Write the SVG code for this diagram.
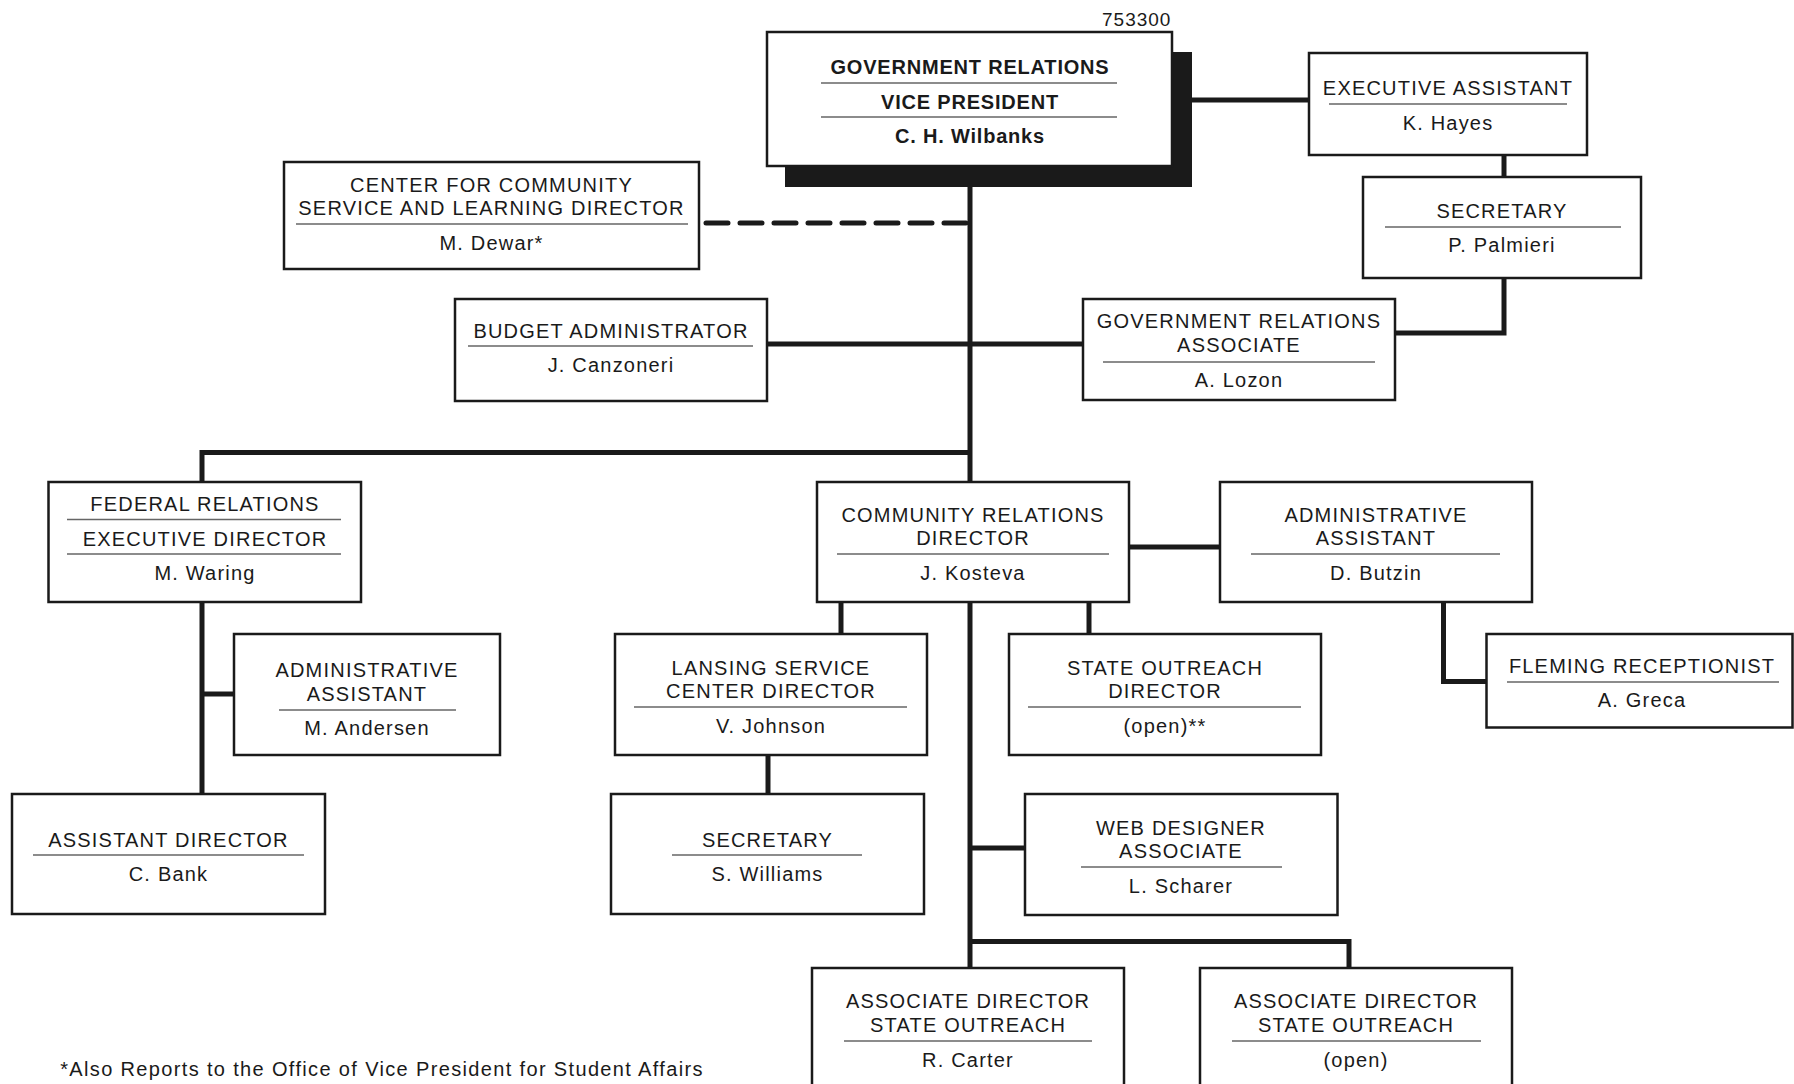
<svg xmlns="http://www.w3.org/2000/svg" width="1794" height="1084" viewBox="0 0 1794 1084">
<style>
.box{fill:#fff;stroke:#1a1a1a;stroke-width:2.5}
.rule{stroke:#666;stroke-width:1.3}
.t{font-family:"Liberation Sans",Arial,sans-serif;font-size:20px;letter-spacing:1.2px;fill:#1a1a1a;text-anchor:middle}
.b{font-weight:bold;letter-spacing:0.8px}
.conn{stroke:#1a1a1a;stroke-width:5;fill:none}
.dash{stroke:#1a1a1a;stroke-width:5;fill:none;stroke-dasharray:22 12;stroke-linecap:round}
</style>
<rect width="1794" height="1084" fill="#fff"/>
<g id="connectors">
<path class="conn" d="M970 166 V968"/>
<path class="conn" d="M1172 100 H1309"/>
<path class="conn" d="M1504 155 V177"/>
<path class="conn" d="M1504 278 V333 H1395"/>
<path class="conn" d="M767 344 H1083"/>
<path class="dash" d="M966 223 H702"/>
<path class="conn" d="M970 452.5 H202 V482"/>
<path class="conn" d="M202 602 V794"/>
<path class="conn" d="M202 694 H234"/>
<path class="conn" d="M1129 547 H1220"/>
<path class="conn" d="M1443.5 602 V681.5 H1486"/>
<path class="conn" d="M841 602 V634"/>
<path class="conn" d="M768 755 V794"/>
<path class="conn" d="M1089 602 V634"/>
<path class="conn" d="M970 848 H1025"/>
<path class="conn" d="M970 941.5 H1349 V968"/>
</g>
<text class="t" x="1102" y="26" style="text-anchor:start;font-size:19px;letter-spacing:1px">753300</text>
<g id="vp">
<rect x="785" y="52" width="407" height="135" fill="#1a1a1a"/>
<rect class="box" x="767" y="32" width="405" height="134"/>
<text class="t b" x="970" y="74">GOVERNMENT RELATIONS</text>
<line class="rule" x1="821" y1="83" x2="1117" y2="83"/>
<text class="t b" x="970" y="109">VICE PRESIDENT</text>
<line class="rule" x1="821" y1="117" x2="1117" y2="117"/>
<text class="t b" x="970" y="143">C. H. Wilbanks</text>
</g>
<g id="exec-assistant">
<rect class="box" x="1309" y="53" width="278" height="102"/>
<text class="t" x="1448" y="95">EXECUTIVE ASSISTANT</text>
<line class="rule" x1="1329" y1="104" x2="1567" y2="104"/>
<text class="t" x="1448" y="130">K. Hayes</text>
</g>
<g id="secretary-vp">
<rect class="box" x="1363" y="177" width="278" height="101"/>
<text class="t" x="1502" y="218">SECRETARY</text>
<line class="rule" x1="1385" y1="227" x2="1621" y2="227"/>
<text class="t" x="1502" y="252">P. Palmieri</text>
</g>
<g id="center-community">
<rect class="box" x="284" y="162" width="415" height="107"/>
<text class="t" x="491.5" y="192">CENTER FOR COMMUNITY</text>
<text class="t" x="491.5" y="215">SERVICE AND LEARNING DIRECTOR</text>
<line class="rule" x1="296" y1="224" x2="688" y2="224"/>
<text class="t" x="491.5" y="250">M. Dewar*</text>
</g>
<g id="budget">
<rect class="box" x="455" y="299" width="312" height="102"/>
<text class="t" x="611" y="338">BUDGET ADMINISTRATOR</text>
<line class="rule" x1="468" y1="346" x2="753" y2="346"/>
<text class="t" x="611" y="372">J. Canzoneri</text>
</g>
<g id="gr-associate">
<rect class="box" x="1083" y="299" width="312" height="101"/>
<text class="t" x="1239" y="328">GOVERNMENT RELATIONS</text>
<text class="t" x="1239" y="352">ASSOCIATE</text>
<line class="rule" x1="1103" y1="362" x2="1375" y2="362"/>
<text class="t" x="1239" y="387">A. Lozon</text>
</g>
<g id="federal">
<rect class="box" x="48.5" y="482" width="312.5" height="120"/>
<text class="t" x="205" y="511">FEDERAL RELATIONS</text>
<line class="rule" x1="67" y1="519.5" x2="341" y2="519.5"/>
<text class="t" x="205" y="546">EXECUTIVE DIRECTOR</text>
<line class="rule" x1="67" y1="554" x2="341" y2="554"/>
<text class="t" x="205" y="580">M. Waring</text>
</g>
<g id="community">
<rect class="box" x="817" y="482" width="312" height="120"/>
<text class="t" x="973" y="522">COMMUNITY RELATIONS</text>
<text class="t" x="973" y="545">DIRECTOR</text>
<line class="rule" x1="837" y1="554" x2="1109" y2="554"/>
<text class="t" x="973" y="580">J. Kosteva</text>
</g>
<g id="admin-butzin">
<rect class="box" x="1220" y="482" width="312" height="120"/>
<text class="t" x="1376" y="522">ADMINISTRATIVE</text>
<text class="t" x="1376" y="545">ASSISTANT</text>
<line class="rule" x1="1251" y1="554" x2="1500" y2="554"/>
<text class="t" x="1376" y="580">D. Butzin</text>
</g>
<g id="admin-andersen">
<rect class="box" x="234" y="634" width="266" height="121"/>
<text class="t" x="367" y="677">ADMINISTRATIVE</text>
<text class="t" x="367" y="701">ASSISTANT</text>
<line class="rule" x1="279" y1="710" x2="456" y2="710"/>
<text class="t" x="367" y="735">M. Andersen</text>
</g>
<g id="lansing">
<rect class="box" x="615" y="634" width="312" height="121"/>
<text class="t" x="771" y="675">LANSING SERVICE</text>
<text class="t" x="771" y="698">CENTER DIRECTOR</text>
<line class="rule" x1="634" y1="707" x2="907" y2="707"/>
<text class="t" x="771" y="733">V. Johnson</text>
</g>
<g id="state-outreach">
<rect class="box" x="1009" y="634" width="312" height="121"/>
<text class="t" x="1165" y="675">STATE OUTREACH</text>
<text class="t" x="1165" y="698">DIRECTOR</text>
<line class="rule" x1="1028" y1="707" x2="1301" y2="707"/>
<text class="t" x="1165" y="733">(open)**</text>
</g>
<g id="fleming">
<rect class="box" x="1486.5" y="634" width="306" height="93.5"/>
<text class="t" x="1642" y="673">FLEMING RECEPTIONIST</text>
<line class="rule" x1="1507" y1="682" x2="1779" y2="682"/>
<text class="t" x="1642" y="707">A. Greca</text>
</g>
<g id="assistant-director">
<rect class="box" x="12" y="794" width="313" height="120"/>
<text class="t" x="168.5" y="847">ASSISTANT DIRECTOR</text>
<line class="rule" x1="33" y1="855" x2="304" y2="855"/>
<text class="t" x="168.5" y="881">C. Bank</text>
</g>
<g id="secretary-lansing">
<rect class="box" x="611" y="794" width="313" height="120"/>
<text class="t" x="767.5" y="847">SECRETARY</text>
<line class="rule" x1="672" y1="855" x2="862" y2="855"/>
<text class="t" x="767.5" y="881">S. Williams</text>
</g>
<g id="web-designer">
<rect class="box" x="1025" y="794" width="312.5" height="121"/>
<text class="t" x="1181" y="835">WEB DESIGNER</text>
<text class="t" x="1181" y="858">ASSOCIATE</text>
<line class="rule" x1="1081" y1="867" x2="1282" y2="867"/>
<text class="t" x="1181" y="893">L. Scharer</text>
</g>
<g id="assoc-carter">
<rect class="box" x="812" y="968" width="312" height="130"/>
<text class="t" x="968" y="1008">ASSOCIATE DIRECTOR</text>
<text class="t" x="968" y="1032">STATE OUTREACH</text>
<line class="rule" x1="844" y1="1041" x2="1092" y2="1041"/>
<text class="t" x="968" y="1067">R. Carter</text>
</g>
<g id="assoc-open">
<rect class="box" x="1200" y="968" width="312" height="130"/>
<text class="t" x="1356" y="1008">ASSOCIATE DIRECTOR</text>
<text class="t" x="1356" y="1032">STATE OUTREACH</text>
<line class="rule" x1="1232" y1="1041" x2="1481" y2="1041"/>
<text class="t" x="1356" y="1067">(open)</text>
</g>
<text class="t" x="382" y="1076" style="letter-spacing:1.35px">*Also Reports to the Office of Vice President for Student Affairs</text>
</svg>
